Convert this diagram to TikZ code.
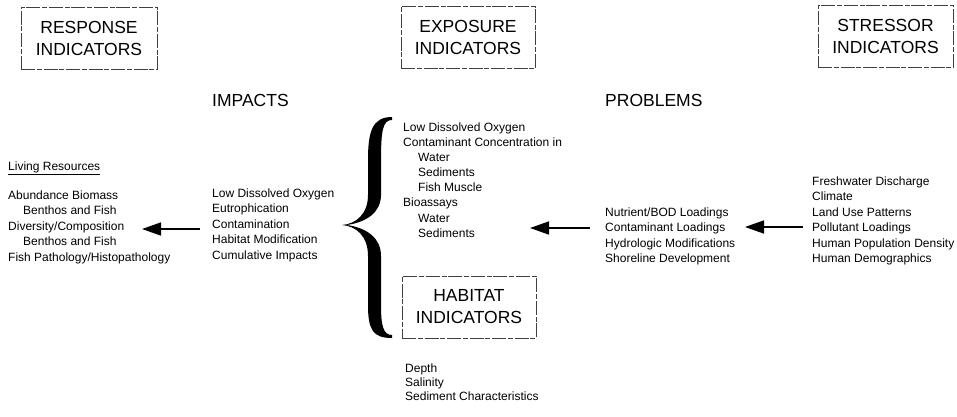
\documentclass[tikz,border=0pt]{standalone}
\usepackage{fontspec}
\setmainfont{Liberation Sans}
\usetikzlibrary{positioning,arrows.meta}
\newcommand{\ind}{\hspace*{15pt}}

\tikzset{
  ibox/.style={draw, line width=0.6pt, black!75,
    dash pattern=on 14pt off 1.5pt on 5pt off 2pt,
    text=black, align=center, inner sep=0pt,
    minimum width=134pt, minimum height=62pt,
    font=\fontsize{17.5}{22}\selectfont},
  head/.style={font=\fontsize{17.5}{22}\selectfont, inner sep=0pt},
  lst/.style={font=\fontsize{12}{15.4}\selectfont, align=left,
    anchor=north west, inner sep=0pt},
  bigarrow/.style={line width=1.6pt, -{Triangle[length=19pt,width=13pt]}}
}

\begin{document}
\begin{tikzpicture}[x=1pt, y=-1pt]
      \useasboundingbox (0,0) rectangle (957,416);
      \node[ibox, minimum width=136pt] (Resp) at (89,38) {RESPONSE\\INDICATORS};
      \node[ibox] (Expo) at (468,37.5) {EXPOSURE\\INDICATORS};
      \node[ibox, minimum width=135pt] (Stress) at (885.5,36.5) {STRESSOR\\INDICATORS};
      \node[ibox] (Hab) at (469,307) {HABITAT\\INDICATORS};

      \node[head, anchor=west] (Impacts) at (212,100) {IMPACTS};
      \node[head, anchor=west] (Problems) at (605,100) {PROBLEMS};

      \node[lst] (Living) at (8,161.5) {\underline{Living Resources}};
      \node[lst] (RespList) at (8,190.5) {Abundance Biomass\\
        \ind Benthos and Fish\\ Diversity/Composition\\
        \ind Benthos and Fish\\ Fish Pathology/Histopathology};
      \node[lst] (ImpList) at (212,188.5) {Low Dissolved Oxygen\\ Eutrophication\\
        Contamination\\ Habitat Modification\\ Cumulative Impacts};
      \node[lst, font=\fontsize{12}{15.1}\selectfont] (ExpoList) at (403,122.5) {Low Dissolved Oxygen\\
        Contaminant Concentration in\\ \ind Water\\ \ind Sediments\\ \ind Fish Muscle\\
        Bioassays\\ \ind Water\\ \ind Sediments};
      \node[lst, font=\fontsize{12}{14}\selectfont] (HabList) at (405,363.5) {Depth\\ Salinity\\ Sediment Characteristics};
      \node[lst] (ProbList) at (605,207.5) {Nutrient/BOD Loadings\\ Contaminant Loadings\\
        Hydrologic Modifications\\ Shoreline Development};
      \node[lst] (StressList) at (812,176.5) {Freshwater Discharge\\ Climate\\
        Land Use Patterns\\ Pollutant Loadings\\ Human Population Density\\ Human Demographics};

      % arrow ends
      \coordinate (A1s) at (200,229);
      \coordinate (A1e) at (142,229);
      \coordinate (A2s) at (590,228);
      \coordinate (A2e) at (530,228);
      \coordinate (A3s) at (803,227);
      \coordinate (A3e) at (745,227);
      \draw[bigarrow] (A1s) -- (A1e);
      \draw[bigarrow] (A2s) -- (A2e);
      \draw[bigarrow] (A3s) -- (A3e);

      % the brace
      \fill (392,117) .. controls (372,117) and (368,132) .. (368,160)
        -- (368,195) .. controls (368,214) and (356,224) .. (342,225)
        .. controls (356,226) and (368,236) .. (368,256)
        -- (368,305) .. controls (368,330) and (373,338) .. (392,338)
        -- (392,335) .. controls (383,335) and (381,325) .. (381,305)
        -- (381,256) .. controls (381,238) and (367,228) .. (347,225)
        .. controls (367,222) and (381,212) .. (381,195)
        -- (381,160) .. controls (381,130) and (383,120) .. (392,120) -- cycle;
    \end{tikzpicture}
\end{document}
